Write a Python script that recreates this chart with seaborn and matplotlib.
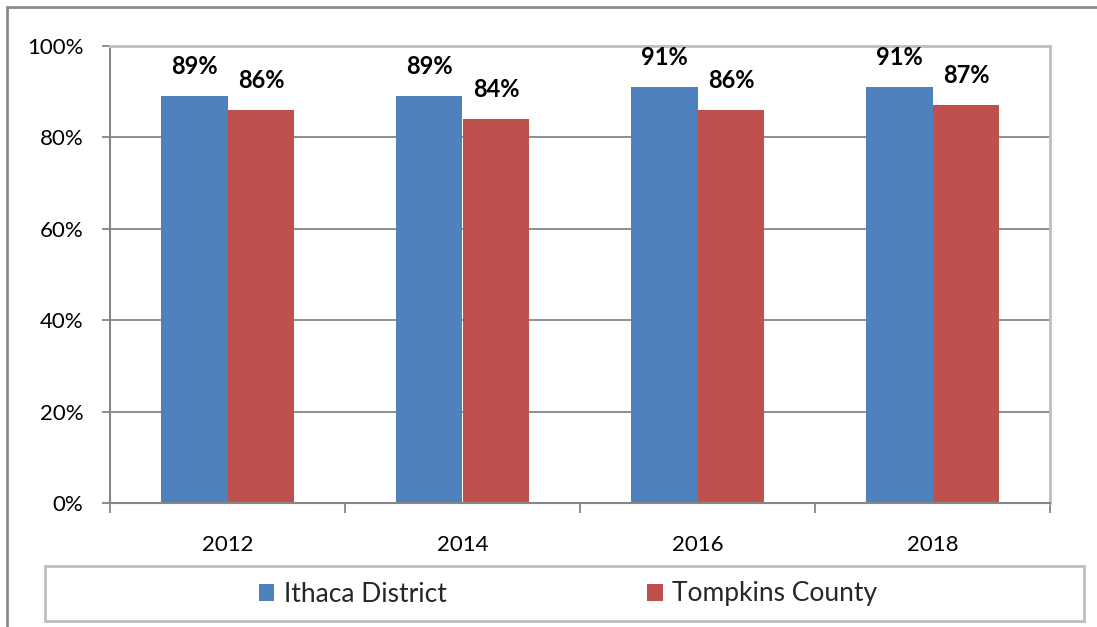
import numpy as np
import pandas as pd
import matplotlib
matplotlib.use("Agg")
import matplotlib.pyplot as plt
import matplotlib.patches as mpatches
from matplotlib.ticker import PercentFormatter
import seaborn as sns

years = ["2012", "2014", "2016", "2018"]
series = ["Ithaca District", "Tompkins County"]
ithaca = [0.89, 0.89, 0.91, 0.91]
tompkins = [0.86, 0.84, 0.86, 0.87]
colors = ["#4F81BD", "#C0504D"]

df = pd.DataFrame({
    "year": years * 2,
    "group": [series[0]] * 4 + [series[1]] * 4,
    "value": ithaca + tompkins,
})

sns.set_theme(style="white")
plt.rcParams["font.family"] = ["Lato", "DejaVu Sans"]

W, H = 1097, 627
fig = plt.figure(figsize=(W / 100, H / 100), dpi=100)
ax = fig.add_axes([110 / W, 1 - 503 / H, (1050 - 110) / W, (503 - 46) / H])

sns.barplot(data=df, x="year", y="value", hue="group", palette=colors,
            width=0.57, linewidth=0, saturation=1, ax=ax)

handles, labels = ax.get_legend_handles_labels()
ax.get_legend().remove()

ax.set_xlim(-0.5, 3.5)
ax.set_ylim(0, 1)
ax.set_yticks(np.arange(0, 1.01, 0.2))
ax.yaxis.set_major_formatter(PercentFormatter(1.0, decimals=0))
ax.set_xlabel(""); ax.set_ylabel("")

ax.grid(axis="y", color="#868686", lw=1.3)
ax.set_axisbelow(True)
for s in ("top", "right"):
    ax.spines[s].set_color("#BFBFBF"); ax.spines[s].set_linewidth(2)
for s in ("left", "bottom"):
    ax.spines[s].set_color("#868686"); ax.spines[s].set_linewidth(1.5)

ax.tick_params(axis="y", which="major", direction="out", length=6, width=1.3,
               color="#868686", pad=13, labelsize=16, labelcolor="black", left=True)
ax.tick_params(axis="x", which="major", length=0, pad=23, labelsize=16, labelcolor="black")
ax.set_xticks(np.arange(-0.5, 3.6, 1), minor=True)
ax.tick_params(axis="x", which="minor", direction="out", length=7, width=1.3,
               color="#868686", bottom=True)

for cont in ax.containers:
    ax.bar_label(cont, labels=[f"{v * 100:.0f}%" for v in cont.datavalues],
                 padding=13, fontsize=17, fontweight="bold", color="black")

# legend with its own box
fig.legend(handles, labels, loc="center", bbox_to_anchor=(568 / W, 1 - 594 / H),
           ncol=2, frameon=False, fontsize=19, handlelength=0.6, handleheight=0.6,
           handletextpad=0.35, columnspacing=7.6)
fig.patches.append(mpatches.Rectangle((45 / W, 1 - 621 / H), (1084 - 45) / W, 55 / H,
                                      transform=fig.transFigure, fill=False,
                                      edgecolor="#BFBFBF", lw=2))
# outer chart border
fig.patches.append(mpatches.Rectangle((7 / W, -0.05), 1.1, 1.05 - 7 / H,
                                      transform=fig.transFigure, fill=False,
                                      edgecolor="#8C8C8C", lw=2))

fig.savefig("out.png", dpi=100)
